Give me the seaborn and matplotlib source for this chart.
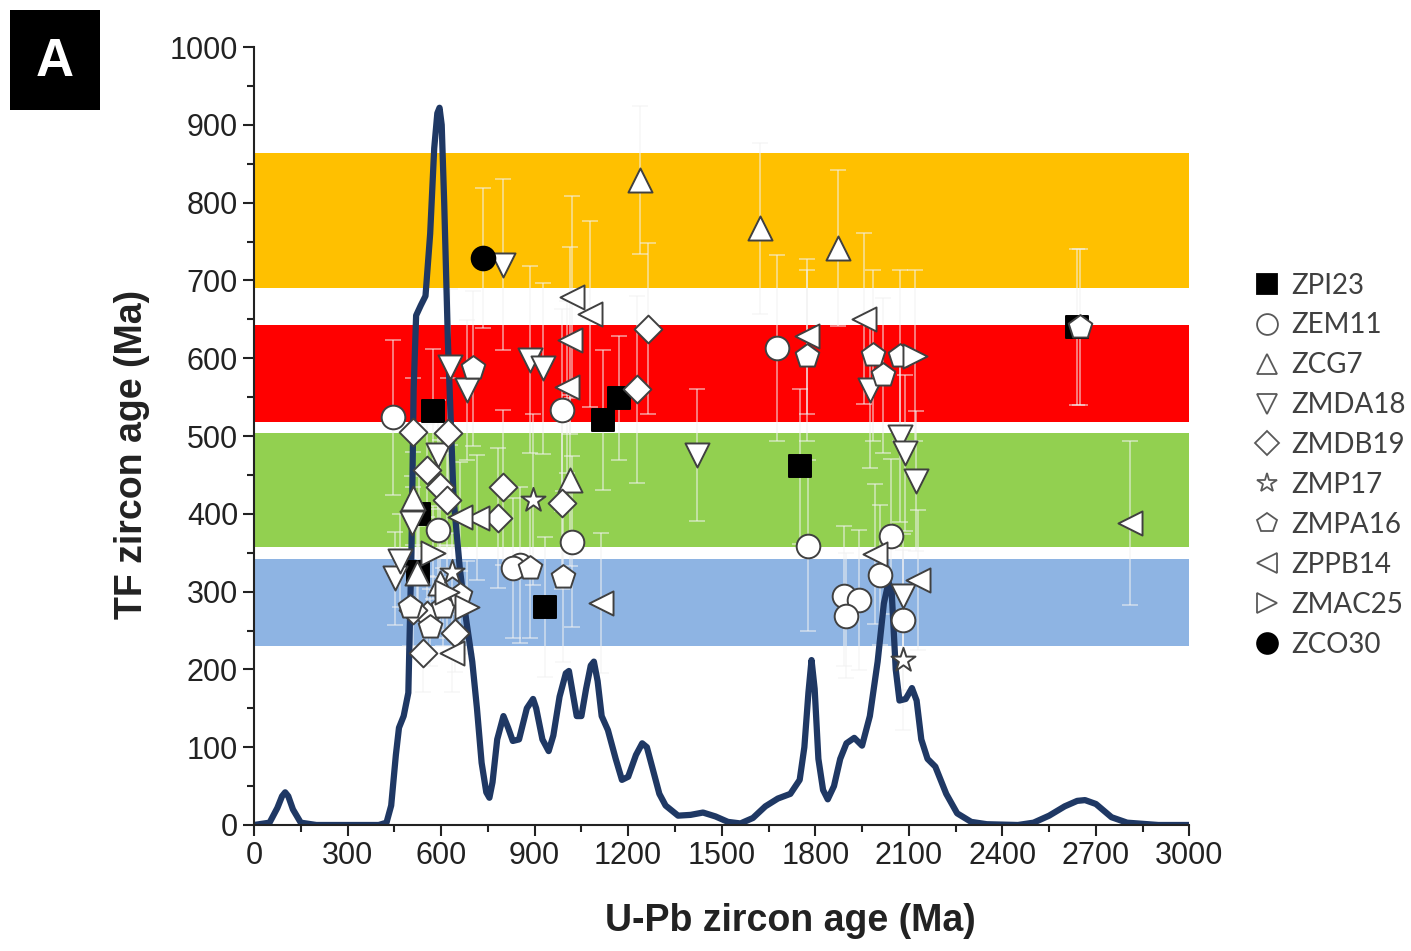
import numpy as np
import pandas as pd
import seaborn as sns
import matplotlib.pyplot as plt
from matplotlib.patches import Rectangle
from matplotlib.ticker import MultipleLocator
from matplotlib.lines import Line2D

sns.set_style('ticks')
plt.rcParams['font.family'] = ['Liberation Sans', 'DejaVu Sans']

# TF age bands (Ma)
band_lo = [230, 357, 518, 690]
band_hi = [342, 504, 643, 864]
band_colors = ['#8EB4E3', '#92D050', '#FF0000', '#FFC000']

# U-Pb probability curve (scaled to the TF axis)
curve_x = [0, 50, 75, 90, 100, 110, 125, 150, 200, 400, 425, 440, 455, 465, 480, 495,
           505, 512, 520, 535, 550, 565, 578, 588, 595, 602, 610, 622, 640, 660, 680,
           700, 715, 730, 745, 755, 765, 780, 800, 815, 830, 850, 875, 895, 905, 925,
           945, 960, 980, 1000, 1010, 1022, 1035, 1050, 1065, 1080, 1090, 1102, 1115,
           1135, 1160, 1180, 1200, 1225, 1245, 1260, 1280, 1300, 1320, 1360, 1400,
           1440, 1480, 1520, 1560, 1600, 1640, 1680, 1720, 1750, 1765, 1778, 1788,
           1798, 1810, 1825, 1840, 1860, 1880, 1900, 1925, 1950, 1975, 2000, 2020,
           2035, 2045, 2058, 2070, 2090, 2110, 2125, 2140, 2160, 2185, 2220, 2255,
           2300, 2350, 2450, 2500, 2550, 2600, 2640, 2665, 2700, 2750, 2800, 2900, 3000]
curve_y = [0, 3, 22, 37, 42, 37, 20, 3, 0, 0, 3, 25, 90, 125, 140, 170,
           350, 560, 655, 668, 680, 760, 870, 915, 922, 900, 800, 620, 420, 330, 265,
           210, 150, 80, 42, 35, 55, 110, 140, 125, 108, 110, 150, 162, 150, 110,
           95, 115, 165, 195, 198, 170, 140, 140, 175, 205, 210, 185, 140,
           122, 85, 58, 62, 90, 105, 100, 70, 40, 25, 12, 13,
           16, 11, 4, 2, 9, 24, 34, 40, 58, 100, 170, 212,
           175, 85, 45, 33, 50, 85, 105, 112, 102, 140, 210, 285,
           312, 300, 200, 160, 162, 176, 160, 110, 85, 75, 40, 15,
           4, 1, 0, 3, 12, 24, 31, 32, 27, 10, 3, 0, 0]

samples = ['ZPI23', 'ZEM11', 'ZCG7', 'ZMDA18', 'ZMDB19', 'ZMP17', 'ZMPA16',
           'ZPPB14', 'ZMAC25', 'ZCO30']
sample_markers = ['s', 'o', '^', 'v', 'D', '*', 'p', '<', '>', 'o']
sample_fills = ['black', 'white', 'white', 'white', 'white', 'white', 'white',
                'white', 'white', 'black']

zpi23_x = [574, 1119, 1170, 1750, 933, 530, 525, 2640]
zpi23_y = [532, 520, 549, 461, 280, 400, 325, 640]
zpi23_e = [80, 90, 80, 100, 90, 60, 60, 100]

zem11_x = [446, 987, 1019, 1676, 1776, 1891, 1939, 2042, 2006, 1897, 2080, 853, 830, 590]
zem11_y = [524, 533, 364, 613, 359, 294, 289, 371, 321, 269, 264, 334, 330, 379]
zem11_e = [100, 130, 110, 120, 110, 90, 90, 100, 90, 80, 90, 100, 90, 60]

zcg7_x = [1237, 1622, 1872, 510, 1013, 522, 596]
zcg7_y = [829, 767, 742, 420, 443, 324, 311]
zcg7_e = [95, 110, 100, 60, 110, 60, 60]

zmda18_x = [798, 628, 885, 926, 1420, 1974, 2071, 2087, 2122, 2080, 683, 590, 506, 452, 468]
zmda18_y = [720, 589, 598, 587, 476, 559, 499, 478, 442, 294, 559, 476, 388, 317, 340]
zmda18_e = [110, 100, 120, 110, 85, 100, 110, 100, 90, 80, 90, 70, 60, 60, 60]

zmdb19_x = [1263, 1228, 987, 798, 782, 510, 622, 554, 596, 618, 554, 542, 644, 510]
zmdb19_y = [638, 560, 414, 434, 395, 505, 504, 456, 435, 418, 270, 221, 247, 276]
zmdb19_e = [110, 120, 110, 100, 90, 70, 70, 60, 60, 60, 50, 50, 50, 50]

zmp17_x = [894, 2080, 635]
zmp17_y = [418, 212, 325]
zmp17_e = [110, 90, 50]

zmpa16_x = [2650, 702, 990, 1772, 1984, 2016, 2071, 500, 606, 660, 564, 885]
zmpa16_y = [640, 587, 319, 603, 604, 578, 603, 280, 280, 296, 254, 330]
zmpa16_e = [100, 100, 110, 110, 110, 100, 110, 50, 50, 60, 50, 90]

zppb14_x = [1019, 1077, 1013, 1003, 1955, 1772, 2808, 1112, 1990, 715, 660, 2128, 635]
zppb14_y = [679, 657, 623, 563, 651, 628, 388, 285, 348, 395, 396, 315, 221]
zppb14_e = [130, 120, 120, 110, 110, 100, 105, 90, 90, 80, 70, 90, 50]

zmac25_x = [2119, 683, 574, 620]
zmac25_y = [603, 280, 350, 300]
zmac25_e = [110, 60, 60, 60]

zco30_x = [734]
zco30_y = [729]
zco30_e = [90]

sample_data = {
    'ZPI23': (zpi23_x, zpi23_y, zpi23_e),
    'ZEM11': (zem11_x, zem11_y, zem11_e),
    'ZCG7': (zcg7_x, zcg7_y, zcg7_e),
    'ZMDA18': (zmda18_x, zmda18_y, zmda18_e),
    'ZMDB19': (zmdb19_x, zmdb19_y, zmdb19_e),
    'ZMP17': (zmp17_x, zmp17_y, zmp17_e),
    'ZMPA16': (zmpa16_x, zmpa16_y, zmpa16_e),
    'ZPPB14': (zppb14_x, zppb14_y, zppb14_e),
    'ZMAC25': (zmac25_x, zmac25_y, zmac25_e),
    'ZCO30': (zco30_x, zco30_y, zco30_e),
}
marker_sizes = {'s': 230, 'o': 290, '^': 300, 'v': 300, 'D': 200, '*': 330,
                'p': 320, '<': 300, '>': 300}

fig = plt.figure(figsize=(14.11, 9.51), dpi=100)
ax = fig.add_axes([0.18, 0.1325, 0.663, 0.818])

for lo, hi, c in zip(band_lo, band_hi, band_colors):
    ax.axhspan(lo, hi, color=c, lw=0, zorder=0)

# error bars first, faint
for name in samples:
    xs, ys, es = sample_data[name]
    ax.errorbar(xs, ys, yerr=es, fmt='none', ecolor='#f2f2f2', elinewidth=1.2,
                capsize=6, capthick=1.2, alpha=0.6, zorder=1)

curve = pd.DataFrame({'x': curve_x, 'y': curve_y})
sns.lineplot(data=curve, x='x', y='y', ax=ax, color='#1F3864', lw=4.5,
             zorder=2, sort=False, solid_joinstyle='round', solid_capstyle='round')

for name, mk, fc in zip(samples, sample_markers, sample_fills):
    xs, ys, es = sample_data[name]
    df = pd.DataFrame({'x': xs, 'y': ys})
    sns.scatterplot(data=df, x='x', y='y', ax=ax, marker=mk, s=marker_sizes[mk],
                    color=fc, edgecolor='#404040' if fc == 'white' else 'black',
                    linewidth=1.4, zorder=3, legend=False)

ax.set_xlim(0, 3000)
ax.set_ylim(0, 1000)
ax.xaxis.set_major_locator(MultipleLocator(300))
ax.xaxis.set_minor_locator(MultipleLocator(150))
ax.yaxis.set_major_locator(MultipleLocator(100))
ax.yaxis.set_minor_locator(MultipleLocator(50))
ax.tick_params(axis='both', which='major', direction='out', length=8, width=1.5,
               labelsize=22, color='#222222', labelcolor='#222222')
ax.tick_params(axis='both', which='minor', direction='out', length=5, width=1.5,
               color='#222222')
for sp in ['left', 'bottom']:
    ax.spines[sp].set_linewidth(1.5)
    ax.spines[sp].set_color('#222222')
sns.despine(ax=ax)
ax.set_xlabel('U-Pb zircon age (Ma)', fontsize=27, fontweight='bold', color='#222222')
ax.set_ylabel('TF zircon age (Ma)', fontsize=27, fontweight='bold', color='#222222')
ax.xaxis.set_label_coords(0.573, -0.1)
ax.yaxis.set_label_coords(-0.111, 0.476)

handles = []
for name, mk, fc in zip(samples, sample_markers, sample_fills):
    handles.append(Line2D([], [], ls='none', marker=mk, markersize=15 if mk != 'D' else 12,
                          markerfacecolor=fc if fc == 'black' else 'white',
                          markeredgecolor='black' if fc == 'black' else '#595959',
                          markeredgewidth=1.3))
leg = fig.legend(handles, samples, loc='upper left', bbox_to_anchor=(0.878, 0.728),
                 frameon=False, handlelength=1.0, handletextpad=0.4,
                 labelspacing=0.5, borderpad=0,
                 prop={'family': 'Lato', 'size': 20})
for t in leg.get_texts():
    t.set_color('#404040')

# panel letter
fig.add_artist(Rectangle((10 / 1411, 1 - 110 / 951), 90 / 1411, 100 / 951,
                         transform=fig.transFigure, color='black', lw=0))
fig.text(55 / 1411, 1 - 62 / 951, 'A', color='white', fontsize=38,
         fontweight='bold', ha='center', va='center')

fig.savefig('out.png', dpi=100)
